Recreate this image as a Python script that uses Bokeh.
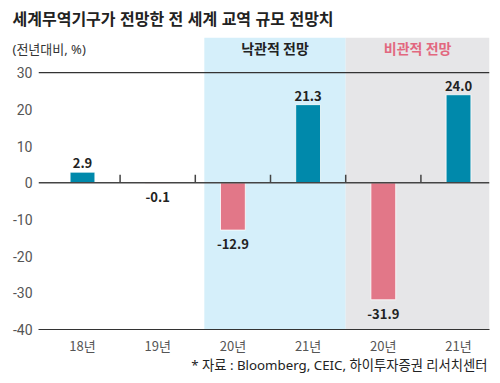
from bokeh.plotting import figure
from bokeh.models import Range1d, FixedTicker, Span, Label
from bokeh.embed import file_html
from bokeh.resources import INLINE
from bokeh.core.properties import value

# ---- data ----
categories = ["18년", "19년", "20년", "21년", "20년", "21년"]
values = [2.9, -0.1, -12.9, 21.3, -31.9, 24.0]
y_ticks = [-40, -30, -20, -10, 0, 10, 20, 30]
scenario_names = ["낙관적 전망", "비관적 전망"]
scenario_start = [2, 4]   # first category index of each scenario
scenario_end = [3, 5]     # last category index of each scenario

TITLE = "세계무역기구가 전망한 전 세계 교역 규모 전망치"
UNIT = "(전년대비, %)"
SOURCE = "* 자료 : Bloomberg, CEIC, 하이투자증권 리서치센터"

FONT = "Noto Sans CJK KR"
TITLE_FONT = "Liberation Sans, Noto Sans CJK KR"
NOTE_FONT = "Noto Sans, Noto Sans CJK KR"
POS_COLOR = "#0089AB"
NEG_COLOR = "#E27788"
REGION_COLORS = ["#D5EFFA", "#E6E6E8"]
HEADER_COLORS = ["#222222", "#E2687F"]

W, H = 500, 375
# canvas geometry of the frame (canvas px)
FL, FR, FT, FB = 38, 489, 37, 330
x0, x1 = -0.585, 5.412
y0, y1 = -40, 39.6

def xd(px):
    return x0 + (px - FL) * (x1 - x0) / (FR - FL)

def yd(py):
    return y1 - (py - FT) * (y1 - y0) / (FB - FT)

px_per_y = (FB - FT) / (y1 - y0)

p = figure(width=W, height=H, output_backend="svg", toolbar_location=None,
           x_range=Range1d(x0, x1), y_range=Range1d(y0, y1),
           min_border_left=FL, min_border_right=W - FR,
           min_border_top=FT, min_border_bottom=H - FB)
p.outline_line_color = None
p.xgrid.visible = False
p.ygrid.visible = False
p.background_fill_color = "white"
p.border_fill_color = "white"

# scenario shading
reg_left = [s - 0.38 if i == 0 else s - 0.5 for i, s in enumerate(scenario_start)]
reg_right = [e + 0.5 if i == 0 else x1 for i, e in enumerate(scenario_end)]
p.quad(left=reg_left, right=reg_right, bottom=[y0] * 2, top=[y1] * 2,
       color=REGION_COLORS, line_color=None)

# lines
p.add_layout(Span(location=y_ticks[-1], dimension="width", line_color="#333333", line_width=1.2))
p.add_layout(Span(location=0, dimension="width", line_color="#444444", line_width=1.5))

# bars
idx = list(range(len(categories)))
colors = [POS_COLOR if v >= 0 else NEG_COLOR for v in values]
p.vbar(x=idx, top=values, bottom=0, width=0.33, color=colors, line_color="white", line_width=0.8)

# boundary ticks on zero line
bx = [i + 0.5 for i in idx[:-1]]
p.segment(x0=bx, x1=bx, y0=[0] * len(bx), y1=[8 / px_per_y] * len(bx),
          line_color="#444444", line_width=1.5)

# value labels
pos_i = [i for i, v in enumerate(values) if v >= 0]
neg_i = [i for i, v in enumerate(values) if v < 0]
p.text(x=pos_i, y=[values[i] + 9 / px_per_y for i in pos_i],
       text=[f"{values[i]:.1f}" for i in pos_i], text_align="center", text_baseline="alphabetic",
       text_font=value(FONT), text_font_size="13px", text_font_style="bold", text_color="#222222")
p.text(x=neg_i, y=[min(values[i], 0) - 14 / px_per_y for i in neg_i],
       text=[f"{values[i]:.1f}" for i in neg_i], text_align="center", text_baseline="middle",
       text_font=value(FONT), text_font_size="13px", text_font_style="bold", text_color="#222222")

# axes
p.xaxis.ticker = FixedTicker(ticks=idx)
p.xaxis.major_label_overrides = {i: c for i, c in enumerate(categories)}
p.xaxis.major_tick_line_color = None
p.xaxis.major_tick_out = 0
p.xaxis.major_tick_in = 0
p.xaxis.minor_tick_line_color = None
p.xaxis.axis_line_color = "#333333"
p.xaxis.axis_line_width = 1.2
p.xaxis.major_label_standoff = 6
p.xaxis.major_label_text_font = FONT
p.xaxis.major_label_text_font_size = "13px"
p.xaxis.major_label_text_color = "#555555"

p.yaxis.ticker = FixedTicker(ticks=y_ticks)
p.yaxis.major_label_overrides = {t: str(t) for t in y_ticks}
p.yaxis.major_tick_line_color = None
p.yaxis.major_tick_out = 0
p.yaxis.major_tick_in = 0
p.yaxis.minor_tick_line_color = None
p.yaxis.axis_line_color = None
p.yaxis.major_label_standoff = 6
p.yaxis.major_label_text_font = "Roboto"
p.yaxis.major_label_text_font_size = "14px"
p.yaxis.major_label_text_color = "#555555"

# texts (placed in side panels so they are not clipped to the frame)
p.add_layout(Label(x=xd(12), y=yd(19), text=TITLE, text_font=TITLE_FONT, text_font_size="16px",
                   text_font_style="bold", text_color="#222222", text_baseline="middle"), "above")
p.add_layout(Label(x=xd(12), y=yd(49), text=UNIT, text_font=NOTE_FONT, text_font_size="13px",
                   text_color="#333333", text_baseline="middle"), "above")
for i, name in enumerate(scenario_names):
    cx = (reg_left[i] + reg_right[i]) / 2
    p.add_layout(Label(x=cx, y=yd(48), text=name, text_font=FONT, text_font_size="14px",
                       text_font_style="bold", text_color=HEADER_COLORS[i],
                       text_align="center", text_baseline="middle"))
p.add_layout(Label(x=xd(487), y=yd(366), text=SOURCE, text_font=NOTE_FONT, text_font_size="13.3px",
                   text_color="#222222", text_align="right", text_baseline="middle"), "below")

open("out.html", "w").write(file_html(p, INLINE))
